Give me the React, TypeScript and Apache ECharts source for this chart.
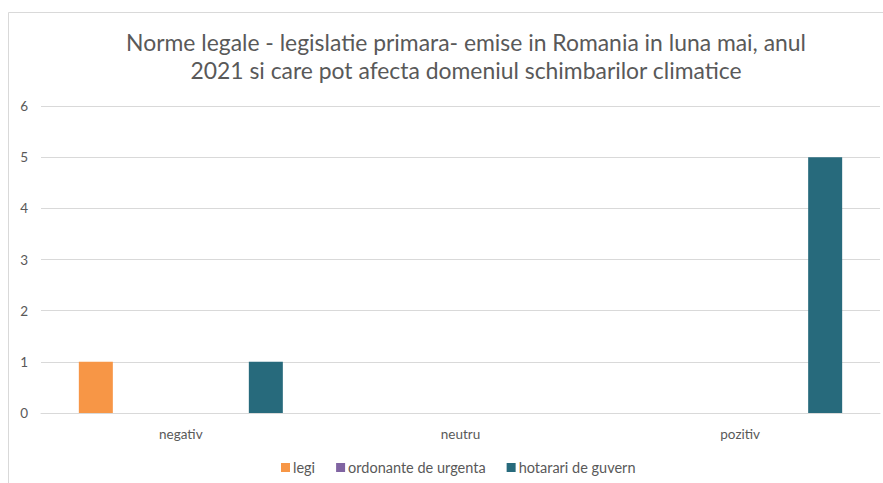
import React, { useEffect, useRef } from "react";
import * as echarts from "echarts";

const categories = ["negativ", "neutru", "pozitiv"];
const seriesNames = ["legi", "ordonante de urgenta", "hotarari de guvern"];
const legiValues = [1, 0, 0];
const ordonanteValues = [0, 0, 0];
const hotarariValues = [1, 0, 5];
const colors = ["#F79646", "#8064A2", "#276A7C"];
const titleText =
  "Norme legale - legislatie primara- emise in Romania in luna mai, anul\n2021 si care pot afecta domeniul schimbarilor climatice";

const FONT = "Lato, 'Open Sans', sans-serif";

export default function App() {
  const ref = useRef<HTMLDivElement>(null);
  useEffect(() => {
    if (!ref.current) return;
    const chart = echarts.init(ref.current, undefined, { renderer: "svg" });
    const values = [legiValues, ordonanteValues, hotarariValues];
    chart.setOption({
      animation: false,
      backgroundColor: "#ffffff",
      textStyle: { fontFamily: FONT },
      graphic: [
        {
          type: "rect",
          shape: { x: 8.5, y: 12.5, width: 900, height: 500 },
          style: { fill: "none", stroke: "#D9D9D9", lineWidth: 1 },
          silent: true,
        },
      ],
      title: {
        text: titleText,
        left: 461,
        top: 23,
        textAlign: "center",
        textStyle: {
          fontFamily: FONT,
          fontSize: 22.9,
          lineHeight: 28,
          fontWeight: "normal",
          color: "#595959",
        },
      },
      legend: {
        data: seriesNames,
        left: 276,
        top: 455,
        itemWidth: 9,
        itemHeight: 9,
        itemGap: 21,
        icon: "rect",
        textStyle: { fontFamily: FONT, fontSize: 14.5, color: "#595959", padding: [0, 0, 0, -2] },
      },
      grid: { left: 41, right: 3, top: 106, bottom: 70, containLabel: false },
      xAxis: {
        type: "category",
        data: categories,
        axisLine: { lineStyle: { color: "#D9D9D9" } },
        axisTick: { show: false },
        axisLabel: { color: "#595959", fontSize: 13.5, margin: 14, fontFamily: FONT },
      },
      yAxis: {
        type: "value",
        min: 0,
        max: 6,
        interval: 1,
        axisLine: { show: false },
        axisTick: { show: false },
        splitLine: { lineStyle: { color: "#D9D9D9" } },
        axisLabel: { color: "#595959", fontSize: 13.5, margin: 13, fontFamily: FONT },
      },
      series: seriesNames.map((name, i) => ({
        name,
        type: "bar",
        data: values[i],
        barWidth: 34,
        barGap: "150%",
        itemStyle: { color: colors[i] },
      })),
    });
    return () => chart.dispose();
  }, []);
  return (
    <div
      ref={ref}
      style={{ position: "absolute", left: 0, top: 0, width: 883, height: 483 }}
    />
  );
}
